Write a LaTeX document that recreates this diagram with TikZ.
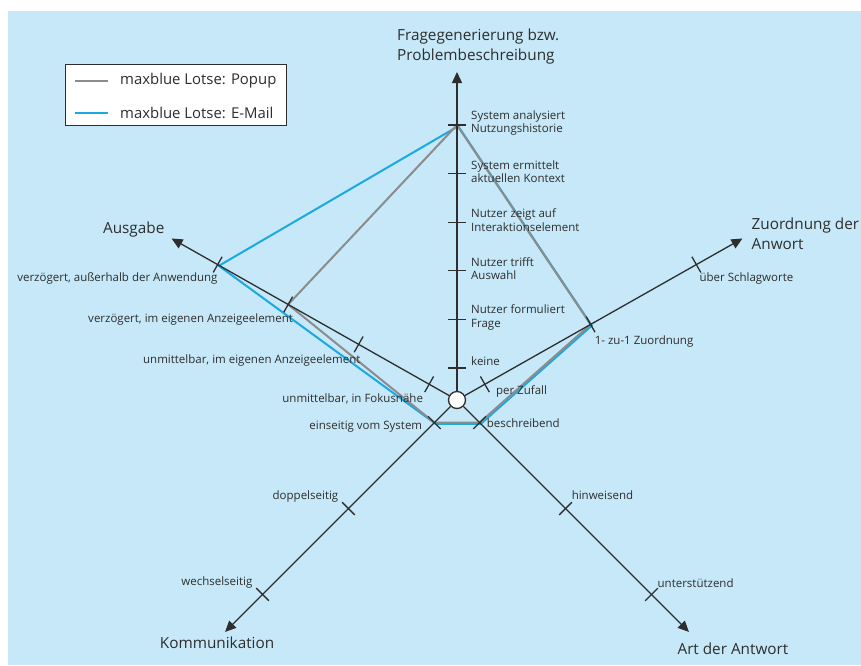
\documentclass[tikz,border=0pt]{standalone}
\usepackage{fontspec}
\setmainfont{Open Sans}
\usetikzlibrary{arrows.meta,calc}

\definecolor{skyback}{HTML}{C6E8F8}
\definecolor{emailblue}{HTML}{1BA9E1}
\definecolor{popupgray}{HTML}{8C8C8C}
\definecolor{inkgray}{HTML}{2E2E2E}

\tikzset{
  axisline/.style={draw=inkgray, line width=1.3pt, -{Triangle[length=11pt,width=10pt]}},
  tickline/.style={draw=inkgray, line width=1.3pt},
  ticktext/.style={font=\fontsize{11.5}{13.6}\selectfont, text=inkgray, inner sep=0pt, align=left},
  axistext/.style={font=\fontsize{15.3}{20}\selectfont, text=inkgray, inner sep=0pt, align=left},
  legendtext/.style={font=\fontsize{14.9}{17}\selectfont, text=inkgray, inner sep=0pt, anchor=west},
  popupline/.style={draw=popupgray, line width=2pt},
  emailline/.style={draw=emailblue, line width=2pt},
}

\begin{document}
\begin{tikzpicture}[x=1pt,y=-1pt]
% background
\useasboundingbox (0,0) rectangle (861,665);
\fill[skyback] (8,11) rectangle (861,665);

% centre, axis ends and tick positions
\coordinate (c) at (457,400);
\foreach \name/\ang/\n in {f/-90/6, a/209.5/4, z/-29.5/3, k/135/3, r/45/3}{
  \coordinate (\name end) at ($(c)+(\ang:328)$);
  \foreach \i in {1,...,\n}{
    \pgfmathsetmacro\rad{32+(\i-1)*243/(\n-1)}
    \coordinate (\name\i) at ($(c)+(\ang:\rad)$);
  }
}

% profiles
\draw[emailline, transform canvas={xshift=1.2pt,yshift=-1.2pt}] (f6) -- (a4) -- (k1) -- (r1) -- (z2) -- cycle;
\draw[popupline] (f6) -- (a3) -- (k1) -- (r1) -- (z2) -- cycle;

% axes with ticks
\node[circle, draw=inkgray, fill=white, line width=1.3pt, minimum size=17pt, inner sep=0pt] (hub) at (c) {};
\foreach \name/\ang/\n in {f/-90/6, a/209.5/4, z/-29.5/3, k/135/3, r/45/3}{
  \draw[axisline] (hub) -- (\name end);
  \foreach \i in {1,...,\n}
    \draw[tickline] ($(\name\i)+(\ang+90:9)$) -- ($(\name\i)+(\ang-90:9)$);
}

% axis titles
\node[axistext, anchor=west] (tfrage) at ($(fend)+(-60,-25)$) {Fragegenerierung bzw.\\Problembeschreibung};
\node[axistext, anchor=east] (tausgabe) at ($(aend)+(-7,-9)$) {Ausgabe};
\node[axistext, anchor=west] (tzuord) at ($(zend)+(9,-5)$) {Zuordnung der\\Anwort};
\node[axistext] (tkomm) at ($(kend)+(-8,11)$) {Kommunikation};
\node[axistext] (tart) at ($(rend)+(44,17)$) {Art der Antwort};

% tick labels
\node[ticktext, anchor=west] (lf1) at ($(f1)+(14,-7)$) {keine};
\node[ticktext, anchor=west] (lf2) at ($(f2)+(14,-2)$) {Nutzer formuliert\\Frage};
\node[ticktext, anchor=west] (lf3) at ($(f3)+(14,-2)$) {Nutzer trifft\\Auswahl};
\node[ticktext, anchor=west] (lf4) at ($(f4)+(14,-2)$) {Nutzer zeigt auf\\Interaktionselement};
\node[ticktext, anchor=west] (lf5) at ($(f5)+(14,-2)$) {System ermittelt\\aktuellen Kontext};
\node[ticktext, anchor=west] (lf6) at ($(f6)+(14,-2)$) {System analysiert\\Nutzungshistorie};

\node[ticktext, anchor=east] (la1) at ($(a1)+(-6,15)$) {unmittelbar, in Fokusnähe};
\node[ticktext, anchor=east] (la2) at ($(a2)+(2,16)$) {unmittelbar, im eigenen Anzeigeelement};
\node[ticktext, anchor=east] (la3) at ($(a3)+(5,15)$) {verzögert, im eigenen Anzeigeelement};
\node[ticktext, anchor=east] (la4) at ($(a4)+(0,14)$) {verzögert, außerhalb der Anwendung};

\node[ticktext, anchor=west] (lz1) at ($(z1)+(11,7)$) {per Zufall};
\node[ticktext, anchor=west] (lz2) at ($(z2)+(4,17)$) {1- zu-1 Zuordnung};
\node[ticktext, anchor=west] (lz3) at ($(z3)+(3,14)$) {über Schlagworte};

\node[ticktext, anchor=east] (lk1) at ($(k1)+(-12,4)$) {einseitig vom System};
\node[ticktext, anchor=east] (lk2) at ($(k2)+(-10,-12)$) {doppelseitig};
\node[ticktext, anchor=east] (lk3) at ($(k3)+(-10,-12)$) {wechselseitig};

\node[ticktext, anchor=west] (lr1) at ($(r1)+(7,1)$) {beschreibend};
\node[ticktext, anchor=west] (lr2) at ($(r2)+(6,-13)$) {hinweisend};
\node[ticktext, anchor=west] (lr3) at ($(r3)+(6,-11)$) {unterstützend};

% legend
\node[draw=inkgray, fill=white, line width=1pt, minimum width=221pt, minimum height=61pt, inner sep=0pt, anchor=north west] (legend) at (65,64) {};
\coordinate (lp1) at ($(legend.north west)+(10,17)$);
\coordinate (lp2) at ($(legend.north west)+(43,17)$);
\coordinate (le1) at ($(legend.north west)+(10,49)$);
\coordinate (le2) at ($(legend.north west)+(43,49)$);
\draw[popupline, line width=1.6pt] (lp1) -- (lp2);
\draw[emailline, line width=1.6pt] (le1) -- (le2);
\node[legendtext] (lpopup) at ($(legend.north west)+(55,17)$) {maxblue Lotse: Popup};
\node[legendtext] (lemail) at ($(legend.north west)+(55,49)$) {maxblue Lotse: E-Mail};
\end{tikzpicture}
\end{document}
